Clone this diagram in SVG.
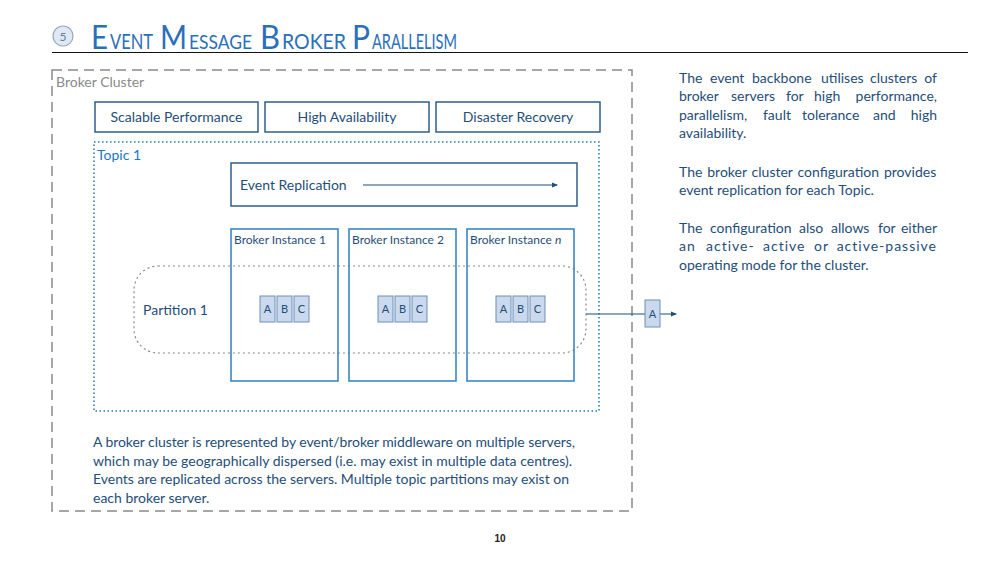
<svg xmlns="http://www.w3.org/2000/svg" width="1000" height="563" viewBox="0 0 1000 563">
<style>
text{font-family:Lato,"Open Sans","Liberation Sans",sans-serif}
.title{fill:#2a6fba}
.cap{font-size:33px}
.sc{font-size:20.5px}
.box{fill:#fff;stroke:#2f5f8a;stroke-width:1.5}
.lbl{font-size:14px;fill:#1f4e79}
.inst{fill:none;stroke:#3b87c4;stroke-width:1.6}
.ilbl{font-size:12px;fill:#1f4e79}
.cell{fill:#cbd9ee;stroke:#6d8fb8;stroke-width:1}
.clbl{font-size:11px;fill:#1f4e79;text-anchor:middle}
.para{font-size:14px;fill:#1f4e79}
</style>
<defs>
<marker id="ah" markerWidth="6" markerHeight="6" refX="5" refY="3" orient="auto" markerUnits="userSpaceOnUse">
<path d="M0,0.5 L6,3 L0,5.5 Z" fill="#1f4e79"/>
</marker>
</defs>
<g id="title">
<circle cx="63" cy="36" r="10" fill="#dfe8f5" stroke="#9aa8b8" stroke-width="1.2"/>
<text x="63" y="40.5" font-size="12" fill="#6a7d99" text-anchor="middle">5</text>
<text class="title cap" x="91" y="48.5" textLength="17" lengthAdjust="spacingAndGlyphs">E</text>
<text class="title sc" x="110" y="48.5" textLength="43" lengthAdjust="spacingAndGlyphs">VENT</text>
<text class="title cap" x="160" y="48.5" textLength="27" lengthAdjust="spacingAndGlyphs">M</text>
<text class="title sc" x="189" y="48.5" textLength="63" lengthAdjust="spacingAndGlyphs" style="font-size:19.5px">ESSAGE</text>
<text class="title cap" x="260" y="48.5" textLength="20" lengthAdjust="spacingAndGlyphs">B</text>
<text class="title sc" x="282" y="48.5" textLength="64" lengthAdjust="spacingAndGlyphs">ROKER</text>
<text class="title cap" x="352" y="48.5" textLength="18" lengthAdjust="spacingAndGlyphs">P</text>
<text class="title sc" x="372" y="48.5" textLength="85" lengthAdjust="spacingAndGlyphs">ARALLELISM</text>
<line x1="52" y1="52.5" x2="968" y2="52.5" stroke="#111" stroke-width="1.2"/>
</g>
<g id="broker-cluster">
<rect x="52" y="70" width="580" height="441" fill="none" stroke="#8a8a8a" stroke-width="1.5" stroke-dasharray="10,6"/>
<text x="56" y="87" font-size="14" fill="#8a8a8a">Broker Cluster</text>
</g>
<g id="scalable-performance">
<rect class="box" x="95" y="102" width="163" height="30"/>
<text class="lbl" x="176.5" y="122" text-anchor="middle">Scalable Performance</text>
</g>
<g id="high-availability">
<rect class="box" x="265" y="102" width="164" height="30"/>
<text class="lbl" x="347" y="122" text-anchor="middle">High Availability</text>
</g>
<g id="disaster-recovery">
<rect class="box" x="436" y="102" width="164" height="30"/>
<text class="lbl" x="518" y="122" text-anchor="middle">Disaster Recovery</text>
</g>
<g id="topic-1">
<rect x="94" y="142" width="505" height="269" fill="none" stroke="#1a78c2" stroke-width="1.5" stroke-dasharray="1.5,2.5"/>
<text x="97" y="160" font-size="14" fill="#1a78c2">Topic 1</text>
</g>
<g id="event-replication">
<rect class="box" x="231" y="163" width="346" height="43"/>
<text class="lbl" x="240" y="190">Event Replication</text>
</g>
<g id="partition-1">
<rect x="134" y="266" width="452" height="87" rx="24" ry="24" fill="none" stroke="#8a8a8a" stroke-width="1.2" stroke-dasharray="2,3"/>
<text class="lbl" x="143" y="315">Partition 1</text>
</g>
<g id="broker-instance-1">
<rect class="inst" x="231" y="229" width="107" height="152"/>
<text class="ilbl" x="234" y="244">Broker Instance 1</text>
</g>
<g id="broker-instance-2">
<rect class="inst" x="349" y="229" width="107" height="152"/>
<text class="ilbl" x="352" y="244">Broker Instance 2</text>
</g>
<g id="broker-instance-n">
<rect class="inst" x="467" y="229" width="107" height="152"/>
<text class="ilbl" x="470" y="244">Broker Instance <tspan font-style="italic">n</tspan></text>
</g>
<g id="partitions-1">
<rect class="cell" x="260" y="296" width="15" height="26"/><text class="clbl" x="267.5" y="313">A</text>
<rect class="cell" x="277" y="296" width="15" height="26"/><text class="clbl" x="284.5" y="313">B</text>
<rect class="cell" x="294" y="296" width="15" height="26"/><text class="clbl" x="301.5" y="313">C</text>
</g>
<g id="partitions-2">
<rect class="cell" x="378" y="296" width="15" height="26"/><text class="clbl" x="385.5" y="313">A</text>
<rect class="cell" x="395" y="296" width="15" height="26"/><text class="clbl" x="402.5" y="313">B</text>
<rect class="cell" x="412" y="296" width="15" height="26"/><text class="clbl" x="419.5" y="313">C</text>
</g>
<g id="partitions-n">
<rect class="cell" x="496" y="296" width="15" height="26"/><text class="clbl" x="503.5" y="313">A</text>
<rect class="cell" x="513" y="296" width="15" height="26"/><text class="clbl" x="520.5" y="313">B</text>
<rect class="cell" x="530" y="296" width="15" height="26"/><text class="clbl" x="537.5" y="313">C</text>
</g>
<g id="connectors">
<line x1="363" y1="185" x2="557" y2="185" stroke="#1f4e79" stroke-width="1.2" marker-end="url(#ah)"/>
<line x1="586" y1="314" x2="676" y2="314" stroke="#1f4e79" stroke-width="1.2" marker-end="url(#ah)"/>
</g>
<g id="output-event">
<rect class="cell" x="645" y="300" width="15" height="27"/>
<text class="clbl" x="652.5" y="318">A</text>
</g>
<g id="description">
<text class="para" y="83"><tspan x="679">The</tspan> <tspan x="710">event</tspan> <tspan x="752">backbone</tspan> <tspan x="821">utilises</tspan> <tspan x="870">clusters</tspan> <tspan x="937" text-anchor="end">of</tspan></text>
<text class="para" y="101"><tspan x="679">broker</tspan> <tspan x="731">servers</tspan> <tspan x="786">for</tspan> <tspan x="814">high</tspan> <tspan x="937" text-anchor="end">performance,</tspan></text>
<text class="para" y="120"><tspan x="679">parallelism,</tspan> <tspan x="763">fault</tspan> <tspan x="802">tolerance</tspan> <tspan x="873">and</tspan> <tspan x="937" text-anchor="end">high</tspan></text>
<text class="para" x="679" y="138">availability.</text>
<text class="para" x="679" y="177" word-spacing="1.3">The broker cluster configuration provides</text>
<text class="para" x="679" y="195">event replication for each Topic.</text>
<text class="para" y="233"><tspan x="679">The</tspan> <tspan x="710">configuration</tspan> <tspan x="799">also</tspan> <tspan x="831">allows</tspan> <tspan x="878">for</tspan> <tspan x="937" text-anchor="end">either</tspan></text>
<text class="para" y="251" letter-spacing="1"><tspan x="679">an</tspan> <tspan x="706">active-</tspan> <tspan x="763">active</tspan> <tspan x="814">or</tspan> <tspan x="937" text-anchor="end">active-passive</tspan></text>
<text class="para" x="679" y="270">operating mode for the cluster.</text>
</g>
<g id="note">
<text class="para" x="93" y="447" textLength="482" lengthAdjust="spacing">A broker cluster is represented by event/broker middleware on multiple servers,</text>
<text class="para" x="93" y="466" textLength="479" lengthAdjust="spacing">which may be geographically dispersed (i.e. may exist in multiple data centres).</text>
<text class="para" x="93" y="484" textLength="476" lengthAdjust="spacing">Events are replicated across the servers. Multiple topic partitions may exist on</text>
<text class="para" x="93" y="503">each broker server.</text>
</g>
<text x="500" y="542" font-size="10" font-weight="bold" fill="#222" text-anchor="middle" style="font-family:'Liberation Sans',sans-serif">10</text>
</svg>
